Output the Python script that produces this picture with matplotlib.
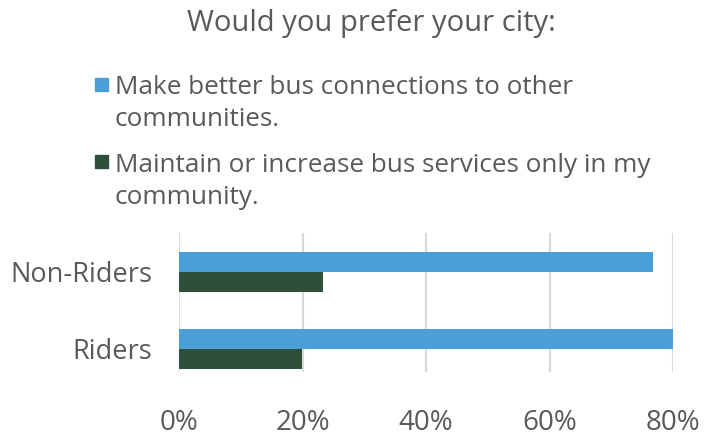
import numpy as np
import matplotlib
matplotlib.use('Agg')
import matplotlib.pyplot as plt
from matplotlib.patches import Rectangle
from matplotlib.ticker import PercentFormatter

# Survey shares.
groups = ['Riders', 'Non-Riders']
connect = [80.0, 76.7]
local = [19.9, 23.3]
label_connect = 'Make better bus connections to other\ncommunities.'
label_local = 'Maintain or increase bus services only in my\ncommunity.'
xticks = [0, 20, 40, 60, 80]

TEXT = '#595959'
BLUE = '#4A9FD7'
GREEN = '#2F4F3A'
plt.rcParams['font.family'] = ['Open Sans', 'DejaVu Sans']

W, H = 706, 437
fig = plt.figure(figsize=(W / 100, H / 100), dpi=100)
ax = fig.add_axes([179 / W, 1 - 372 / H, 494 / W, 139 / H])

y = np.arange(len(groups))
h = 0.26
ax.barh(y + h / 2, connect, height=h, color=BLUE, zorder=3)
ax.barh(y - h / 2, local, height=h, color=GREEN, zorder=3)

ax.set_xlim(0, 80)
ax.set_ylim(-0.3, 1.5)
ax.set_xticks(xticks)
ax.xaxis.set_major_formatter(PercentFormatter(decimals=0))
ax.set_yticks(y)
ax.set_yticklabels(groups)
ax.tick_params(axis='x', length=0, pad=27, labelsize=20, labelcolor=TEXT)
ax.tick_params(axis='y', length=0, pad=19, labelsize=19.5, labelcolor=TEXT)
ax.grid(axis='x', color='#D9D9D9', linewidth=1.5, zorder=0)
for s in ax.spines.values():
    s.set_visible(False)

fig.text(371 / W, 1 - 24 / H, 'Would you prefer your city:', ha='center', va='center',
         fontsize=21, color=TEXT)

# Legend drawn by hand so the marker sits on the first line of a wrapped label.
for label, color, top in [(label_connect, BLUE, 84), (label_local, GREEN, 162)]:
    fig.patches.append(Rectangle((95 / W, 1 - (top + 6.5) / H), 13 / W, 13 / H,
                                 transform=fig.transFigure, color=color))
    for i, line in enumerate(label.split('\n')):
        fig.text(115 / W, 1 - (top + 3 + 32 * i) / H, line, ha='left', va='center',
                 fontsize=18.8, color=TEXT)

fig.savefig('out.png', dpi=100)
